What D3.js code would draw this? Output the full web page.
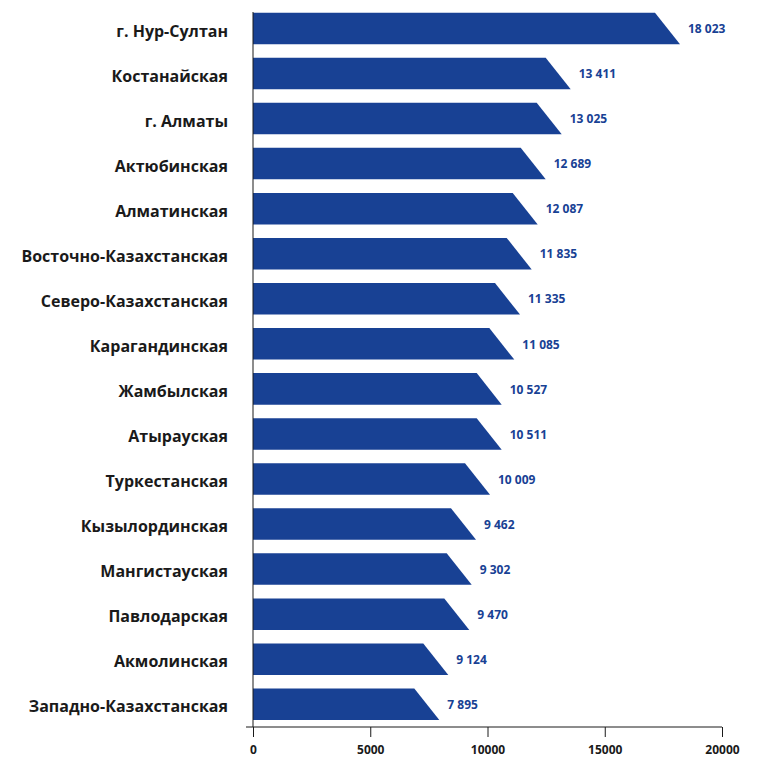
<!DOCTYPE html>
<html><head><meta charset="utf-8">
<script src="https://cdn.jsdelivr.net/npm/d3@7"></script>
<style>body{margin:0;background:#fff}</style>
</head><body>
<svg id="c" width="758" height="758"></svg>
<script>
const categories = ["г. Нур-Султан","Костанайская","г. Алматы","Актюбинская","Алматинская","Восточно-Казахстанская","Северо-Казахстанская","Карагандинская","Жамбылская","Атырауская","Туркестанская","Кызылординская","Мангистауская","Павлодарская","Акмолинская","Западно-Казахстанская"];
const labelValues = [18023,13411,13025,12689,12087,11835,11335,11085,10527,10511,10009,9462,9302,9470,9124,7895];
const barValues = [18209,13548,13164,12482,12141,11885,11386,11143,10606,10606,10107,9510,9326,9224,8328,7945];
const tickValues = [0,5000,10000,15000,20000];

const svg = d3.select("#c");
const x = d3.scaleLinear().domain([0,20000]).range([253,722]);
const y = d3.scaleBand().domain(categories).range([5.9,726.8]).paddingInner(0.3).paddingOuter(0.15);
const blue = "#184194";
const slant = 25;

const data = categories.map((c,i)=>({c, v:barValues[i], l:labelValues[i]}));

svg.append("g").selectAll("path").data(data).join("path")
  .attr("fill", blue)
  .attr("d", d=>{
    const x0=x(0), x1=x(d.v), y0=y(d.c), y1=y0+y.bandwidth();
    return `M${x0},${y0}L${x1-slant},${y0}L${x1},${y1}L${x0},${y1}Z`;
  });

const fmt = v => d3.format(",")(v).replace(/,/g," ");
svg.append("g").selectAll("text").data(data).join("text")
  .attr("x", d=>x(d.v)+8)
  .attr("y", d=>y(d.c)+y.bandwidth()/2+0.5)
  .attr("dy","0.35em")
  .attr("fill", blue)
  .attr("font-family","'Open Sans', sans-serif")
  .attr("font-weight","bold")
  .attr("font-size","12px")
  .text(d=>fmt(d.l));

svg.append("g").selectAll("text").data(data).join("text")
  .attr("x", 228)
  .attr("y", d=>y(d.c)+y.bandwidth()/2+2.5)
  .attr("dy","0.35em")
  .attr("text-anchor","end")
  .attr("fill","#1a1a1a")
  .attr("font-family","'Open Sans', sans-serif")
  .attr("font-weight","bold")
  .attr("font-size","16px")
  .text(d=>d.c);

// axes
const xa = svg.append("g").attr("transform","translate(0,727)")
  .call(d3.axisBottom(x).tickValues(tickValues).tickFormat(d=>d).tickSize(10).tickSizeOuter(0));
xa.select(".domain").remove();
xa.selectAll(".tick line").attr("stroke","#1a1a1a");
xa.selectAll(".tick text").attr("y",18).attr("font-family","'Open Sans', sans-serif")
  .attr("font-weight","bold").attr("font-size","12px").attr("fill","#1a1a1a");
svg.append("line").attr("x1",246).attr("x2",x(20000)).attr("y1",727).attr("y2",727).attr("stroke","#1a1a1a");
svg.append("line").attr("x1",x(0)).attr("x2",x(0)).attr("y1",12).attr("y2",727).attr("stroke","#1a1a1a");
</script>
</body></html>
